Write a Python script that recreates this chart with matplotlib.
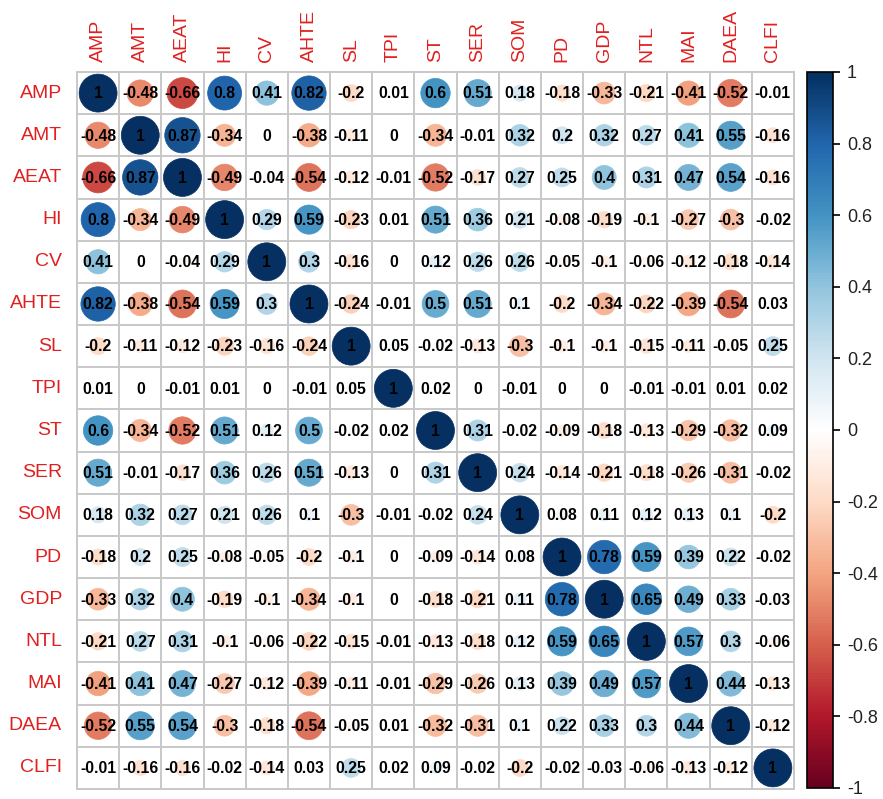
import numpy as np
import matplotlib
matplotlib.use("Agg")
import matplotlib.pyplot as plt
from matplotlib.colors import LinearSegmentedColormap, Normalize
from matplotlib.patches import Circle
import matplotlib.cm as cm

labels = ["AMP", "AMT", "AEAT", "HI", "CV", "AHTE", "SL", "TPI", "ST", "SER",
          "SOM", "PD", "GDP", "NTL", "MAI", "DAEA", "CLFI"]

r_AMP  = [1, -0.48, -0.66, 0.8, 0.41, 0.82, -0.2, 0.01, 0.6, 0.51, 0.18, -0.18, -0.33, -0.21, -0.41, -0.52, -0.01]
r_AMT  = [-0.48, 1, 0.87, -0.34, 0, -0.38, -0.11, 0, -0.34, -0.01, 0.32, 0.2, 0.32, 0.27, 0.41, 0.55, -0.16]
r_AEAT = [-0.66, 0.87, 1, -0.49, -0.04, -0.54, -0.12, -0.01, -0.52, -0.17, 0.27, 0.25, 0.4, 0.31, 0.47, 0.54, -0.16]
r_HI   = [0.8, -0.34, -0.49, 1, 0.29, 0.59, -0.23, 0.01, 0.51, 0.36, 0.21, -0.08, -0.19, -0.1, -0.27, -0.3, -0.02]
r_CV   = [0.41, 0, -0.04, 0.29, 1, 0.3, -0.16, 0, 0.12, 0.26, 0.26, -0.05, -0.1, -0.06, -0.12, -0.18, -0.14]
r_AHTE = [0.82, -0.38, -0.54, 0.59, 0.3, 1, -0.24, -0.01, 0.5, 0.51, 0.1, -0.2, -0.34, -0.22, -0.39, -0.54, 0.03]
r_SL   = [-0.2, -0.11, -0.12, -0.23, -0.16, -0.24, 1, 0.05, -0.02, -0.13, -0.3, -0.1, -0.1, -0.15, -0.11, -0.05, 0.25]
r_TPI  = [0.01, 0, -0.01, 0.01, 0, -0.01, 0.05, 1, 0.02, 0, -0.01, 0, 0, -0.01, -0.01, 0.01, 0.02]
r_ST   = [0.6, -0.34, -0.52, 0.51, 0.12, 0.5, -0.02, 0.02, 1, 0.31, -0.02, -0.09, -0.18, -0.13, -0.29, -0.32, 0.09]
r_SER  = [0.51, -0.01, -0.17, 0.36, 0.26, 0.51, -0.13, 0, 0.31, 1, 0.24, -0.14, -0.21, -0.18, -0.26, -0.31, -0.02]
r_SOM  = [0.18, 0.32, 0.27, 0.21, 0.26, 0.1, -0.3, -0.01, -0.02, 0.24, 1, 0.08, 0.11, 0.12, 0.13, 0.1, -0.2]
r_PD   = [-0.18, 0.2, 0.25, -0.08, -0.05, -0.2, -0.1, 0, -0.09, -0.14, 0.08, 1, 0.78, 0.59, 0.39, 0.22, -0.02]
r_GDP  = [-0.33, 0.32, 0.4, -0.19, -0.1, -0.34, -0.1, 0, -0.18, -0.21, 0.11, 0.78, 1, 0.65, 0.49, 0.33, -0.03]
r_NTL  = [-0.21, 0.27, 0.31, -0.1, -0.06, -0.22, -0.15, -0.01, -0.13, -0.18, 0.12, 0.59, 0.65, 1, 0.57, 0.3, -0.06]
r_MAI  = [-0.41, 0.41, 0.47, -0.27, -0.12, -0.39, -0.11, -0.01, -0.29, -0.26, 0.13, 0.39, 0.49, 0.57, 1, 0.44, -0.13]
r_DAEA = [-0.52, 0.55, 0.54, -0.3, -0.18, -0.54, -0.05, 0.01, -0.32, -0.31, 0.1, 0.22, 0.33, 0.3, 0.44, 1, -0.12]
r_CLFI = [-0.01, -0.16, -0.16, -0.02, -0.14, 0.03, 0.25, 0.02, 0.09, -0.02, -0.2, -0.02, -0.03, -0.06, -0.13, -0.12, 1]

cbar_ticks = [-1, -0.8, -0.6, -0.4, -0.2, 0, 0.2, 0.4, 0.6, 0.8, 1]

corr = np.array([r_AMP, r_AMT, r_AEAT, r_HI, r_CV, r_AHTE, r_SL, r_TPI, r_ST, r_SER,
                 r_SOM, r_PD, r_GDP, r_NTL, r_MAI, r_DAEA, r_CLFI])

cmap = LinearSegmentedColormap.from_list("RdBu_corrplot", [
    "#67001F", "#B2182B", "#D6604D", "#F4A582", "#FDDBC7", "#FFFFFF",
    "#D1E5F0", "#92C5DE", "#4393C3", "#2166AC", "#053061"])
norm = Normalize(-1, 1)

W, H = 883, 799
fig = plt.figure(figsize=(W / 100, H / 100), dpi=100)

n = len(labels)
gx0, gx1, gy0, gy1 = 77, 794, 72, 789
ax = fig.add_axes([gx0 / W, 1 - gy1 / H, (gx1 - gx0) / W, (gy1 - gy0) / H])
ax.set_xlim(0, n)
ax.set_ylim(n, 0)
ax.axis("off")

for k in range(n + 1):
    ax.plot([k, k], [0, n], color="#C8C8C8", lw=1.4, zorder=1, clip_on=False)
    ax.plot([0, n], [k, k], color="#C8C8C8", lw=1.4, zorder=1, clip_on=False)

for i in range(n):
    for j in range(n):
        v = corr[i, j]
        col = cmap(norm(v))
        rad = 0.45 * np.sqrt(abs(v))
        if rad > 0:
            ax.add_patch(Circle((j + 0.5, i + 0.5), rad, facecolor=col,
                                edgecolor=col, lw=0.5, zorder=2))
        txt = f"{round(v, 2):g}"
        ax.text(j + 0.5, i + 0.52, txt, ha="center", va="center",
                fontsize=11.3, fontweight="bold", family="Liberation Sans",
                color="black", zorder=3)

lab_col = "#E02020"
for k, lab in enumerate(labels):
    ax.text(-15 / ((gx1 - gx0) / n), k + 0.5, lab, ha="right", va="center",
            fontsize=14, family="Liberation Sans", color=lab_col)
    ax.text(k + 0.5, -10 / ((gy1 - gy0) / n), lab, ha="center", va="bottom",
            rotation=90, fontsize=14, family="Liberation Sans", color=lab_col)

cx0, cx1, cy0, cy1 = 807, 833, 72, 788
cax = fig.add_axes([cx0 / W, 1 - cy1 / H, (cx1 - cx0) / W, (cy1 - cy0) / H])
sm = cm.ScalarMappable(norm=norm, cmap=cmap)
cb = fig.colorbar(sm, cax=cax, ticks=cbar_ticks)
cb.outline.set_edgecolor("black")
cb.outline.set_linewidth(1.2)
cb.ax.tick_params(length=5, width=1.2, color="black", labelsize=13, pad=5,
                  labelcolor="#222222")
cb.ax.set_yticklabels([f"{t:g}" for t in cbar_ticks])
for t in cb.ax.get_yticklabels():
    t.set_family("Liberation Sans")

fig.savefig("out.png", dpi=100)
